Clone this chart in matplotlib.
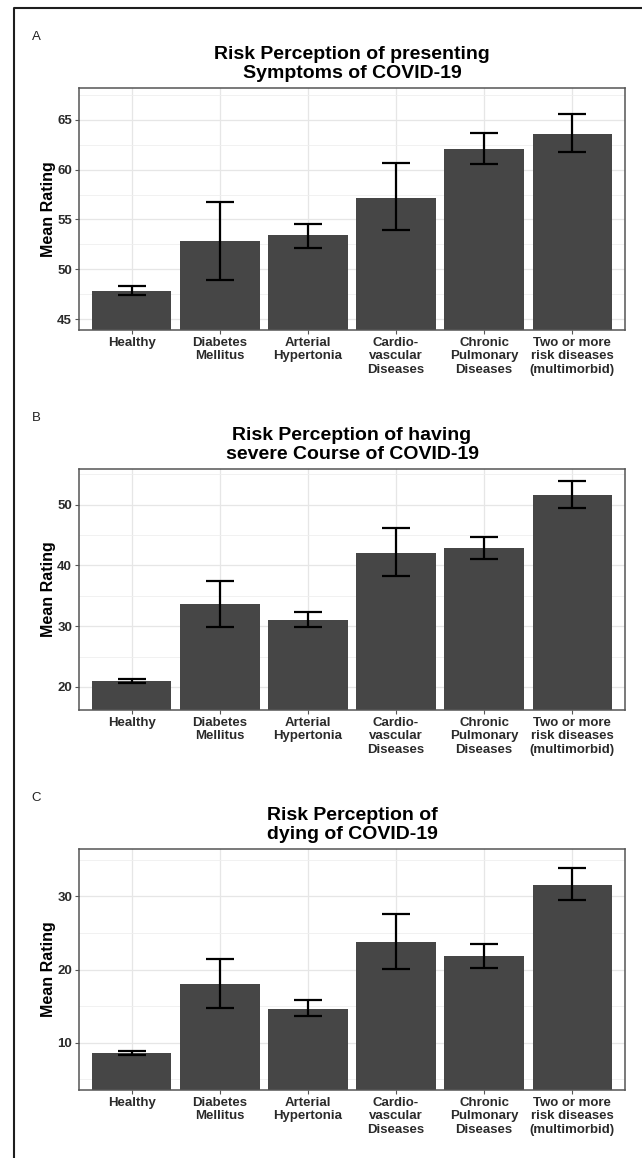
import matplotlib.pyplot as plt
from matplotlib.lines import Line2D
from matplotlib.ticker import MultipleLocator
import numpy as np

plt.rcParams['font.family'] = ['Liberation Sans', 'DejaVu Sans']

categories = ["Healthy", "Diabetes\nMellitus", "Arterial\nHypertonia",
              "Cardio-\nvascular\nDiseases", "Chronic\nPulmonary\nDiseases",
              "Two or more\nrisk diseases\n(multimorbid)"]

# mean rating with lower / upper end of the error bar
symptoms_mean = [47.8, 52.8, 53.4, 57.2, 62.1, 63.6]
symptoms_lo = [47.45, 48.9, 52.1, 53.9, 60.6, 61.75]
symptoms_hi = [48.3, 56.8, 54.55, 60.7, 63.7, 65.55]

severe_mean = [20.9, 33.7, 31.0, 42.0, 42.8, 51.6]
severe_lo = [20.6, 29.9, 29.8, 38.2, 41.0, 49.5]
severe_hi = [21.35, 37.5, 32.25, 46.2, 44.7, 53.9]

dying_mean = [8.5, 18.0, 14.6, 23.8, 21.8, 31.6]
dying_lo = [8.27, 14.66, 13.6, 20.1, 20.2, 29.5]
dying_hi = [8.86, 21.5, 15.8, 27.6, 23.56, 33.9]

panels = [
    ("A", "Risk Perception of presenting\nSymptoms of COVID-19",
     symptoms_mean, symptoms_lo, symptoms_hi, (43.9, 68.2), 5, 88, 330),
    ("B", "Risk Perception of having\nsevere Course of COVID-19",
     severe_mean, severe_lo, severe_hi, (16.2, 55.85), 10, 469, 710),
    ("C", "Risk Perception of\ndying of COVID-19",
     dying_mean, dying_lo, dying_hi, (3.5, 36.5), 10, 849, 1090),
]

W, H = 642, 1158
fig = plt.figure(figsize=(W / 100, H / 100), dpi=100)

ax_left, ax_right = 79, 625
x = np.arange(len(categories))

for letter, title, mean, lo, hi, ylim, step, top, bottom in panels:
    ax = fig.add_axes([ax_left / W, (H - bottom) / H,
                       (ax_right - ax_left) / W, (bottom - top) / H])
    ax.set_axisbelow(True)
    ax.bar(x, mean, width=0.9, color="#464646", zorder=2)
    mean = np.array(mean)
    yerr = [mean - np.array(lo), np.array(hi) - mean]
    ax.errorbar(x, mean, yerr=yerr, fmt="none", ecolor="black",
                elinewidth=1.6, capsize=10, capthick=1.6, zorder=3)

    ax.set_xlim(-0.6, len(categories) - 0.4)
    ax.set_ylim(*ylim)
    ax.yaxis.set_major_locator(MultipleLocator(step))
    ax.yaxis.set_minor_locator(MultipleLocator(step / 2))
    ax.set_xticks(x)
    ax.set_xticklabels(categories, fontsize=9.5, fontweight="bold",
                       color="#2a2a2a", linespacing=1.15)
    for lab in ax.get_yticklabels():
        lab.set_fontsize(9.5)
        lab.set_fontweight("bold")
        lab.set_color("#2a2a2a")
    ax.tick_params(axis="both", which="major", length=3, width=0.8,
                   color="#555555", pad=2)
    ax.tick_params(axis="y", which="minor", length=0)

    ax.grid(which="major", color="#e6e6e6", linewidth=0.9)
    ax.grid(which="minor", axis="y", color="#efefef", linewidth=0.6)
    for sp in ax.spines.values():
        sp.set_color("#555555")
        sp.set_linewidth(1.1)

    ax.set_ylabel("Mean Rating", fontsize=11.5, fontweight="bold", labelpad=1)
    ax.set_title(title, fontsize=14, fontweight="bold", pad=7, linespacing=1.2)

    fig.text(36 / W, 1 - (top - 51) / H, letter, fontsize=9.5,
             ha="center", va="center", color="#222222")

# frame on the left and top edges
fig.add_artist(Line2D([14 / W, 14 / W, 1], [0, 1 - 8 / H, 1 - 8 / H],
                      transform=fig.transFigure, color="#1e1e1e", linewidth=1.5))

fig.savefig("out.png", dpi=100)
